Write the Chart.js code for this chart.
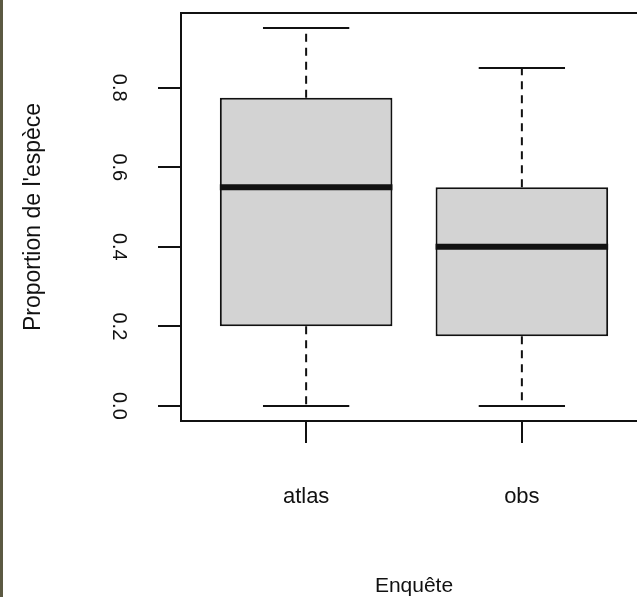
<!DOCTYPE html>
<html>
<head>
<meta charset="utf-8">
<script src="https://cdn.jsdelivr.net/npm/chart.js@4"></script>
<style>
    html, body { margin: 0; padding: 0; background: #fff; overflow: hidden; }
    #wrap { position: relative; width: 637px; height: 597px; overflow: hidden; }
    #strip { position: absolute; left: 0; top: 0; width: 3px; height: 597px; background: #5b5942; z-index: 2; }
    canvas { position: absolute; left: 0; top: 0; }
</style>
</head>
<body>
<div id="wrap">
    <div id="strip"></div>
    <canvas id="boxChart" width="650" height="597"></canvas>
</div>
<script>
// boxplot stats
const categories = ['atlas', 'obs'];
const lowerWhisker = [0.0, 0.0];
const q1 = [0.2, 0.175];
const median = [0.55, 0.4];
const q3 = [0.775, 0.55];
const upperWhisker = [0.95, 0.85];
const yTicks = [0, 0.2, 0.4, 0.6, 0.8];

const fontFamily = '"Liberation Sans", Arial, Helvetica, sans-serif';
const ink = '#111';

// whiskers, caps and median, drawn from the scales
const boxExtras = {
    id: 'boxExtras',
    afterDatasetsDraw(chart) {
        const ctx = chart.ctx;
        const yScale = chart.scales.y;
        const meta = chart.getDatasetMeta(0);
        ctx.save();
        ctx.strokeStyle = ink;
        meta.data.forEach((bar, i) => {
            const cx = bar.x;
            const half = bar.width / 2;
            const yLo = yScale.getPixelForValue(lowerWhisker[i]);
            const yQ1 = yScale.getPixelForValue(q1[i]);
            const yQ3 = yScale.getPixelForValue(q3[i]);
            const yHi = yScale.getPixelForValue(upperWhisker[i]);
            const yMed = yScale.getPixelForValue(median[i]);

            ctx.lineWidth = 2;
            ctx.setLineDash([8, 6]);
            ctx.beginPath();
            ctx.moveTo(cx, yQ3); ctx.lineTo(cx, yHi);
            ctx.moveTo(cx, yQ1); ctx.lineTo(cx, yLo);
            ctx.stroke();

            ctx.setLineDash([]);
            ctx.beginPath();
            ctx.moveTo(cx - half / 2, yHi); ctx.lineTo(cx + half / 2, yHi);
            ctx.moveTo(cx - half / 2, yLo); ctx.lineTo(cx + half / 2, yLo);
            ctx.stroke();

            ctx.lineWidth = 6;
            ctx.beginPath();
            ctx.moveTo(cx - half, yMed); ctx.lineTo(cx + half, yMed);
            ctx.stroke();
        });
        ctx.restore();
    },
    afterDraw(chart) {
        const {ctx, chartArea} = chart;
        ctx.save();
        ctx.strokeStyle = ink;
        ctx.lineWidth = 2;
        ctx.strokeRect(chartArea.left, chartArea.top, chartArea.right - chartArea.left, chartArea.bottom - chartArea.top);
        ctx.restore();
    }
};

new Chart(document.getElementById('boxChart').getContext('2d'), {
    type: 'bar',
    data: {
        datasets: [{
            label: 'Proportion',
            data: categories.map((c, i) => ({ x: i + 1, y: [q1[i], q3[i]] })),
            backgroundColor: '#d3d3d3',
            borderColor: ink,
            borderWidth: 2,
            borderSkipped: false,
            categoryPercentage: 1,
            barPercentage: 0.8
        }]
    },
    options: {
        responsive: false,
        animation: false,
        devicePixelRatio: 1,
        layout: { padding: { top: 13, right: 3, left: 0, bottom: 0 } },
        plugins: {
            legend: { display: false },
            tooltip: { enabled: false }
        },
        scales: {
            x: {
                type: 'linear',
                min: 0.42,
                max: 2.58,
                offset: false,
                afterBuildTicks: axis => { axis.ticks = categories.map((c, i) => ({ value: i + 1 })); },
                afterFit: axis => { axis.height = 176; axis.paddingLeft = 0; axis.paddingRight = 0; },
                grid: { display: true, offset: false, drawOnChartArea: false, drawTicks: true, tickLength: 22, color: ink, lineWidth: 2 },
                border: { display: true, color: ink, width: 2 },
                ticks: {
                    color: ink,
                    padding: 41,
                    maxRotation: 0,
                    font: { family: fontFamily, size: 22 },
                    callback: value => categories[value - 1] || ''
                },
                title: {
                    display: true,
                    text: 'Enquête',
                    color: ink,
                    font: { family: fontFamily, size: 21 },
                    padding: { top: 0, bottom: -2 }
                }
            },
            y: {
                min: -0.038,
                max: 0.988,
                afterBuildTicks: axis => { axis.ticks = yTicks.map(v => ({ value: v })); },
                afterFit: axis => { axis.width = 181; axis.paddingTop = 0; axis.paddingBottom = 0; },
                grid: { display: true, drawOnChartArea: false, drawTicks: true, tickLength: 23, color: ink, lineWidth: 2 },
                border: { display: true, color: ink, width: 2 },
                ticks: {
                    color: ink,
                    padding: 26,
                    minRotation: -90,
                    maxRotation: -90,
                    crossAlign: 'center',
                    font: { family: fontFamily, size: 20 },
                    callback: value => value.toFixed(1)
                },
                title: {
                    display: true,
                    text: "Proportion de l'espèce",
                    color: ink,
                    font: { family: fontFamily, size: 23 },
                    padding: { top: 20, bottom: 0 }
                }
            }
        }
    },
    plugins: [boxExtras]
});
</script>
</body>
</html>
